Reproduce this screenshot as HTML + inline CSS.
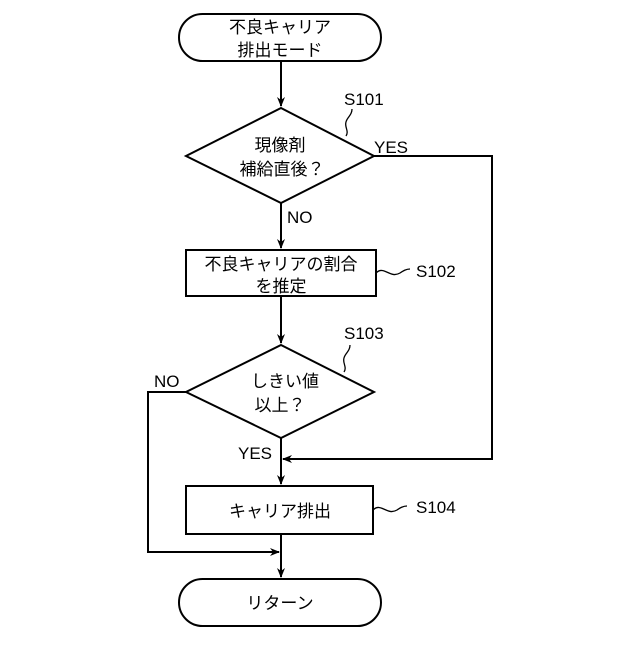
<!DOCTYPE html>
<html><head><meta charset="utf-8"><style>body{margin:0;background:#fff}</style></head><body>
<svg width="640" height="640" xmlns="http://www.w3.org/2000/svg" font-family="'Liberation Sans','Noto Sans CJK JP',sans-serif" font-size="17" fill="#000">
<defs><marker id="a" markerWidth="10" markerHeight="10" refX="9" refY="5" orient="auto" markerUnits="userSpaceOnUse"><path d="M0,1 L10,5 L0,9 L3,5 Z" fill="#000"/></marker></defs>
<g stroke="#000" stroke-width="2" fill="none">
<rect x="179" y="14" width="202" height="47" rx="23.5"/>
<polygon points="281,108 374,156 281,203 186,156"/>
<rect x="186" y="250" width="190" height="46"/>
<polygon points="281,345 374,392 281,438 186,392"/>
<rect x="186" y="486" width="187" height="48"/>
<rect x="179" y="579" width="202" height="47" rx="23.5"/>
<line x1="281" y1="61" x2="281" y2="106" marker-end="url(#a)"/>
<line x1="281" y1="203" x2="281" y2="248" marker-end="url(#a)"/>
<line x1="281" y1="296" x2="281" y2="343" marker-end="url(#a)"/>
<line x1="281" y1="438" x2="281" y2="484" marker-end="url(#a)"/>
<line x1="281" y1="534" x2="281" y2="577" marker-end="url(#a)"/>
<polyline points="374,156 492,156 492,459 283,459" marker-end="url(#a)"/>
<polyline points="186,392 148,392 148,552 279,552" marker-end="url(#a)"/>
<path d="M346,136 c4,-6 -4,-10 2,-18 c3,-4 4,-6 4,-9" stroke-width="1.3"/>
<path d="M344,372 c4,-6 -4,-10 2,-18 c3,-4 4,-6 4,-9" stroke-width="1.3"/>
<path d="M376,273 c8,-8 14,6 24,0 c3,-2 6,-4 10,-4" stroke-width="1.3"/>
<path d="M373,510 c8,-8 14,6 24,0 c3,-2 6,-4 10,-4" stroke-width="1.3"/>
</g>
<g text-anchor="middle">
<text x="280" y="33">不良キャリア</text>
<text x="280" y="56">排出モード</text>
<text x="280" y="151">現像剤</text>
<text x="282" y="175">補給直後？</text>
<text x="281" y="270">不良キャリアの割合</text>
<text x="281" y="292">を推定</text>
<text x="285" y="387">しきい値</text>
<text x="280" y="411">以上？</text>
<text x="280" y="517">キャリア排出</text>
<text x="280" y="609">リターン</text>
</g>
<text x="344" y="105">S101</text>
<text x="374" y="153">YES</text>
<text x="287" y="223">NO</text>
<text x="416" y="277">S102</text>
<text x="344" y="339">S103</text>
<text x="154" y="387">NO</text>
<text x="238" y="459">YES</text>
<text x="416" y="513">S104</text>
</svg>
</body></html>
